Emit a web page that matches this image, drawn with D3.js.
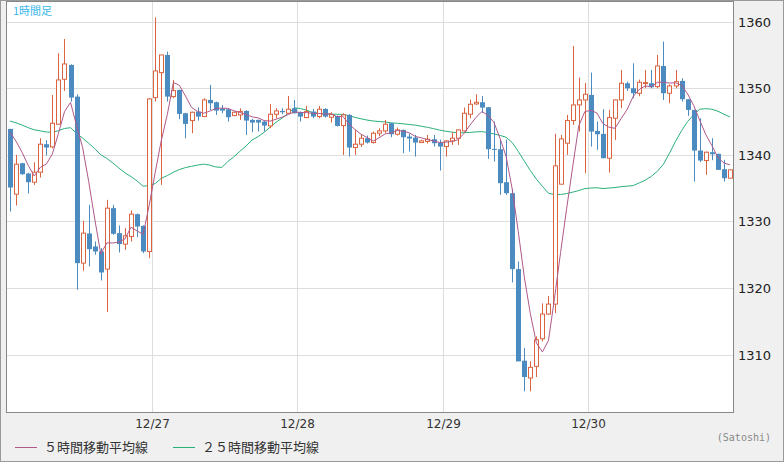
<!DOCTYPE html>
<html><head><meta charset="utf-8">
<script src="https://cdn.jsdelivr.net/npm/d3@7"></script>
<style>body{margin:0;background:#f0f0f0}svg{display:block}</style>
</head><body><svg id="c" width="784" height="462"></svg>
<script>
const opens=[1343.9,1334.1,1338.75,1337.2,1335.9,1337.4,1341.6,1341.2,1344.6,1351.35,1353.5,1348.75,1323.75,1328.2,1326.25,1325.5,1322.85,1332,1328.25,1326.6,1327.75,1331.1,1329.35,1325.5,1348.6,1352.35,1355,1348.75,1349.75,1346.25,1345.15,1346.5,1345.75,1348.25,1347.9,1346.95,1346.85,1345.9,1346,1346.6,1345.25,1345.25,1345,1344.35,1346.1,1346.6,1346.25,1347,1346.4,1345.6,1346.5,1345.75,1346.9,1345.65,1345.85,1344.4,1346,1341.1,1341.6,1342.5,1341.85,1343.25,1343.6,1344.75,1343.1,1343.75,1342.75,1342.6,1341.85,1342,1342.35,1341.85,1341.25,1342.1,1342.5,1343.6,1346.1,1347.65,1347.9,1347.15,1340.9,1340.85,1335.9,1334.25,1322.85,1309.1,1306.5,1308.25,1312.4,1316.1,1317.6,1335.6,1341.75,1345.15,1347.5,1348.25,1349,1343.6,1343.15,1339.5,1345.5,1348.25,1350.75,1350,1349.25,1350.85,1350.75,1350.25,1353.35,1349.25,1350.35,1351.1,1348.35,1346.75,1340.65,1339.15,1340.4,1340.15,1337.85,1336.5];
const closes=[1335.1,1338.6,1337.1,1335.9,1337.4,1341.6,1341.1,1344.75,1351.25,1353.65,1348.6,1323.75,1328.25,1325.85,1325.5,1322.35,1332,1328.15,1326.6,1327.85,1331.1,1329.25,1325.5,1348.4,1352.6,1355,1348.75,1349.65,1346.15,1344.65,1346.4,1345.75,1348.25,1347.75,1346.65,1346.65,1345.65,1346.4,1346.5,1345.15,1344.85,1344.85,1344.4,1346.1,1346.6,1346.4,1346.85,1346.25,1345.75,1346.5,1345.75,1346.85,1345.75,1346.05,1344.35,1346,1341.1,1341.6,1342.5,1341.85,1343.25,1343.6,1344.6,1343.1,1343.75,1342.65,1342.45,1341.85,1342.1,1342.35,1341.75,1341.25,1342.1,1342.5,1343.75,1346.25,1347.6,1347.9,1347.1,1340.85,1340.75,1335.75,1334.25,1322.85,1309,1306.65,1308.1,1312.25,1316.1,1317.6,1338.35,1342.4,1345.15,1347.5,1348.25,1349.1,1343.5,1343.1,1339.5,1345.6,1348.25,1350.75,1350,1349.25,1350.9,1350.85,1350.15,1353.35,1349.25,1350.35,1351,1348.35,1346.75,1340.65,1339.15,1340.4,1340.1,1337.75,1336.5,1337.75];
const highs=[1343.9,1340,1338.8,1337.3,1338.9,1342.5,1342.2,1349,1355.25,1357.4,1353.6,1349.1,1330.1,1332.5,1327,1326,1333.25,1332.5,1329.4,1329,1331.65,1331.2,1329.4,1348.5,1360.65,1355,1355.5,1351.25,1349.8,1346.3,1346.5,1347.15,1348.5,1350.5,1348,1347.5,1346.9,1346.5,1347,1346.7,1345.4,1345.3,1345.1,1347.65,1347,1347,1348.85,1348.25,1346.5,1347.35,1346.9,1347.35,1347,1346.4,1345.9,1346.25,1346.1,1343.75,1343,1342.9,1343.5,1344,1345.25,1344.8,1344.1,1343.8,1343.2,1343,1342.3,1343,1343,1342.3,1342.2,1343.4,1343.8,1347.1,1348.3,1349.1,1348.85,1347.2,1345,1342.3,1342.3,1334.9,1324,1311,1309,1312.75,1317.7,1318.8,1343.15,1343,1346,1356.35,1351.6,1350.8,1352.35,1345,1346.85,1346.75,1348.3,1352.75,1351,1353.75,1351.3,1352.75,1352.75,1355,1357,1350.6,1352.75,1351.5,1348.4,1346.8,1345.5,1340.5,1342.5,1340.2,1339.25,1337.8];
const lows=[1331.5,1332.4,1337,1334.2,1335.5,1336.6,1339.9,1341,1344.5,1349.6,1348,1319.75,1322.6,1323.25,1325,1321.15,1316.4,1328,1325.35,1325.75,1327,1327.65,1325.25,1324.5,1348,1335.5,1348,1348.5,1345.35,1342.5,1343.25,1345.15,1345.7,1346.75,1346,1346.25,1345,1345.8,1345.25,1343,1343.4,1343.5,1343.5,1344,1345.5,1346.1,1346.2,1346.2,1345,1345.5,1345.5,1345.5,1345.6,1344.85,1344.25,1340,1339.75,1340,1341.2,1341.7,1341.7,1342.8,1343.3,1342.65,1342.9,1340.25,1340.5,1339.75,1341.8,1341.7,1341.25,1337.65,1339.75,1341.5,1341.5,1343.5,1345.5,1347.5,1346.3,1339.4,1339,1334,1334,1320.85,1309,1304.5,1304.5,1306.65,1312,1316,1316.25,1335.6,1340,1344.5,1343.5,1337.25,1341.25,1340.75,1339.5,1337.35,1342.25,1347,1349.6,1348.5,1348.8,1350,1350,1350,1348.25,1347.75,1350,1348,1345.85,1336,1338.9,1337,1339.2,1337.75,1336,1336.5];
const prevCloses=Array(24).fill(1345.5);
const yTicks=[1310,1320,1330,1340,1350,1360];
const dateLabels=["12/27","12/28","12/29","12/30"];
const dateIdx=[24,48,72,96];
const legendLabels=["５時間移動平均線","２５時間移動平均線"];

const svg=d3.select("#c");
const L=6,R=733,T=1,B=412;
const x=d3.scaleLinear().domain([-0.5,119.5]).range([L+1,R]);
const y=d3.scaleLinear().domain([1301.4,1363.1]).range([B,T]);
const font="'Noto Sans CJK JP','DejaVu Sans',sans-serif";
svg.append("rect").attr("x",0.5).attr("y",0.5).attr("width",783).attr("height",461).attr("fill","#f0f0f0").attr("stroke","#999");
svg.append("rect").attr("x",L).attr("y",T).attr("width",R-L).attr("height",B-T).attr("fill","#fff");
const g=svg.append("g");
yTicks.forEach(t=>{g.append("line").attr("x1",L).attr("x2",R).attr("y1",Math.round(y(t))+0.5).attr("y2",Math.round(y(t))+0.5).attr("stroke","#ddd");
 svg.append("text").attr("x",738).attr("y",y(t)+5).text(t).attr("font-family","'DejaVu Sans',sans-serif").attr("font-size",13).attr("fill","#222");});
dateIdx.forEach((d,k)=>{const xx=Math.round(x(d-0.5))+0.5;g.append("line").attr("x1",xx).attr("x2",xx).attr("y1",T).attr("y2",B).attr("stroke","#ddd");
 svg.append("text").attr("x",xx).attr("y",428).attr("text-anchor","middle").text(dateLabels[k]).attr("font-family","'DejaVu Sans',sans-serif").attr("font-size",12).attr("fill","#333");});
const all=prevCloses.concat(closes);
function ma(n){return closes.map((c,i)=>{const j=i+prevCloses.length;return d3.mean(all.slice(j-n+1,j+1));});}
const ma5=ma(5),ma25=ma(25);
const line=d3.line().x((d,i)=>x(i)).y(d=>y(d));
g.append("path").attr("d",line(ma25)).attr("fill","none").attr("stroke","#2bb07a").attr("stroke-width",1);
closes.forEach((c,i)=>{const o=opens[i],up=c>=o,col=up?"#d9643f":"#4b8bc0";const xx=Math.round(x(i))+0.5;
 g.append("line").attr("x1",xx).attr("x2",xx).attr("y1",y(highs[i])).attr("y2",y(lows[i])).attr("stroke",col).attr("stroke-width",1);
 const top=y(Math.max(o,c)),h=Math.max(1,Math.abs(y(o)-y(c)));
 if(up)g.append("rect").attr("x",xx-2).attr("y",top).attr("width",4).attr("height",h).attr("fill","#fff").attr("stroke",col);
 else g.append("rect").attr("x",xx-2.5).attr("y",top).attr("width",5).attr("height",h).attr("fill",col);});
g.append("path").attr("d",line(ma5)).attr("fill","none").attr("stroke","#b05888").attr("stroke-width",1);
svg.append("rect").attr("x",L+0.5).attr("y",T+0.5).attr("width",R-L).attr("height",B-T).attr("fill","none").attr("stroke","#888");
svg.append("text").attr("x",13).attr("y",15).text("1時間足").attr("font-family",font).attr("font-size",11).attr("fill","#3ab8e8");
svg.append("text").attr("x",771).attr("y",441).attr("text-anchor","end").text("(Satoshi)").attr("font-family","'DejaVu Sans Mono',monospace").attr("font-size",10).attr("fill","#888");
[["#b05888",15,legendLabels[0]],["#2bb07a",173,legendLabels[1]]].forEach(([c,lx,t])=>{
 svg.append("line").attr("x1",lx).attr("x2",lx+22).attr("y1",447.5).attr("y2",447.5).attr("stroke",c);
 svg.append("text").attr("x",lx+29).attr("y",452).text(t).attr("font-family",font).attr("font-size",13).attr("fill","#333");});
</script></body></html>
